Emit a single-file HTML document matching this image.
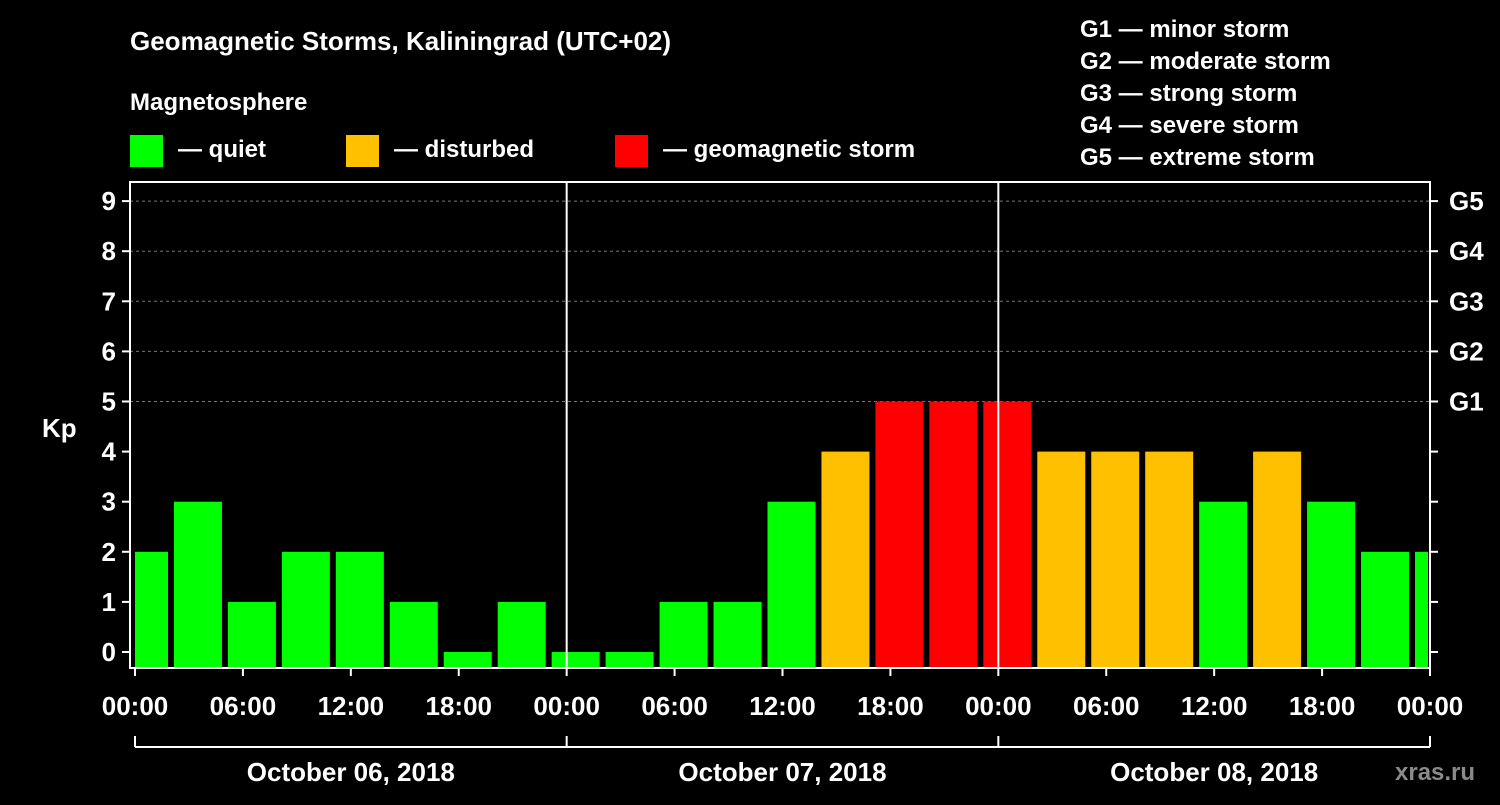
<!DOCTYPE html>
<html><head><meta charset="utf-8"><style>
body{margin:0;background:#000;width:1500px;height:800px;overflow:hidden}
svg text{font-family:"Liberation Sans",Arial,sans-serif;font-weight:bold;fill:#fff}
</style></head><body>
<svg id="c" width="1500" height="800" xmlns="http://www.w3.org/2000/svg">
<text x="130" y="50" font-size="26">Geomagnetic Storms, Kaliningrad (UTC+02)</text>
<text x="130" y="110" font-size="24">Magnetosphere</text>
<rect x="130" y="135" width="33" height="32" fill="#00ff00"/>
<text x="178" y="157" font-size="24">— quiet</text>
<rect x="346" y="135" width="33" height="32" fill="#ffc000"/>
<text x="394" y="157" font-size="24">— disturbed</text>
<rect x="615" y="135" width="33" height="32" fill="#ff0000"/>
<text x="663" y="157" font-size="24">— geomagnetic storm</text>
<g font-size="24">
<text x="1080" y="37">G1 — minor storm</text>
<text x="1080" y="69">G2 — moderate storm</text>
<text x="1080" y="101">G3 — strong storm</text>
<text x="1080" y="133">G4 — severe storm</text>
<text x="1080" y="165">G5 — extreme storm</text>
</g>
<text x="42" y="437" font-size="26">Kp</text>
<text x="1395" y="780" font-size="24" fill="#888" style="fill:#8a8a8a">xras.ru</text>
<g id="plot"></g>
</svg>
<script>
const kpValues=[2,3,1,2,2,1,0,1,0,0,1,1,3,4,5,5,5,4,4,4,3,4,3,2,2];
const yTicks=[0,1,2,3,4,5,6,7,8,9];
const gLabels=["G1","G2","G3","G4","G5"];
const xTickLabels=["00:00","06:00","12:00","18:00","00:00","06:00","12:00","18:00","00:00","06:00","12:00","18:00","00:00"];
const dayLabels=["October 06, 2018","October 07, 2018","October 08, 2018"];
const NS="http://www.w3.org/2000/svg";
const g=document.getElementById('plot');
const L=130,R=1430,T=182,B=668,X0=135,PXH=17.986;
const x=h=>X0+h*PXH;
const y=k=>652-50.1*k;
function mk(t,a,p){const e=document.createElementNS(NS,t);for(const k in a)e.setAttribute(k,a[k]);(p||g).appendChild(e);return e;}
// clip
const cp=mk('clipPath',{id:'cl'});mk('rect',{x:L+5,y:T,width:R-L-7,height:B-T},cp);
// grid
yTicks.forEach(k=>{if(k>=5){const l=mk('line',{x1:L,x2:R,y1:y(k),y2:y(k),stroke:'#777','stroke-dasharray':'3,3'});

}});
// bars
const bg=mk('g',{'clip-path':'url(#cl)'});
kpValues.forEach((v,i)=>{const c=x(3*i+0.5);const col=v>=5?'#ff0000':(v>=4?'#ffc000':'#00ff00');
const r=mk('rect',{x:c-24,y:y(v),width:48,height:B-y(v),fill:col},bg);

});
// frame
const f=mk('rect',{x:L,y:T,width:R-L,height:B-T,fill:'none',stroke:'#fff','stroke-width':2});


[24,48].forEach(h=>{const l=mk('line',{x1:x(h),x2:x(h),y1:T,y2:B,stroke:'#fff','stroke-width':2});

});
// y ticks
yTicks.forEach(k=>{mk('line',{x1:L-8,x2:L,y1:y(k),y2:y(k),stroke:'#fff','stroke-width':2});
mk('line',{x1:R,x2:R+8,y1:y(k),y2:y(k),stroke:'#fff','stroke-width':2});
const t=mk('text',{x:L-14,y:y(k)+9,'text-anchor':'end','font-size':26});t.textContent=k;

});
gLabels.forEach((s,i)=>{const t=mk('text',{x:1449,y:y(5+i)+9,'font-size':26});t.textContent=s;

});
// x ticks
xTickLabels.forEach((s,i)=>{const xx=x(6*i);mk('line',{x1:xx,x2:xx,y1:B,y2:B+8,stroke:'#fff','stroke-width':2});
const t=mk('text',{x:xx,y:715,'text-anchor':'middle','font-size':26});t.textContent=s;

});
// day bracket
mk('line',{x1:x(0),x2:x(72),y1:747,y2:747,stroke:'#fff','stroke-width':2});
[0,24,48,72].forEach(h=>mk('line',{x1:x(h),x2:x(h),y1:736,y2:747,stroke:'#fff','stroke-width':2}));
dayLabels.forEach((s,i)=>{const t=mk('text',{x:x(24*i+12),y:781,'text-anchor':'middle','font-size':26});t.textContent=s;

});
</script>
</body></html>
